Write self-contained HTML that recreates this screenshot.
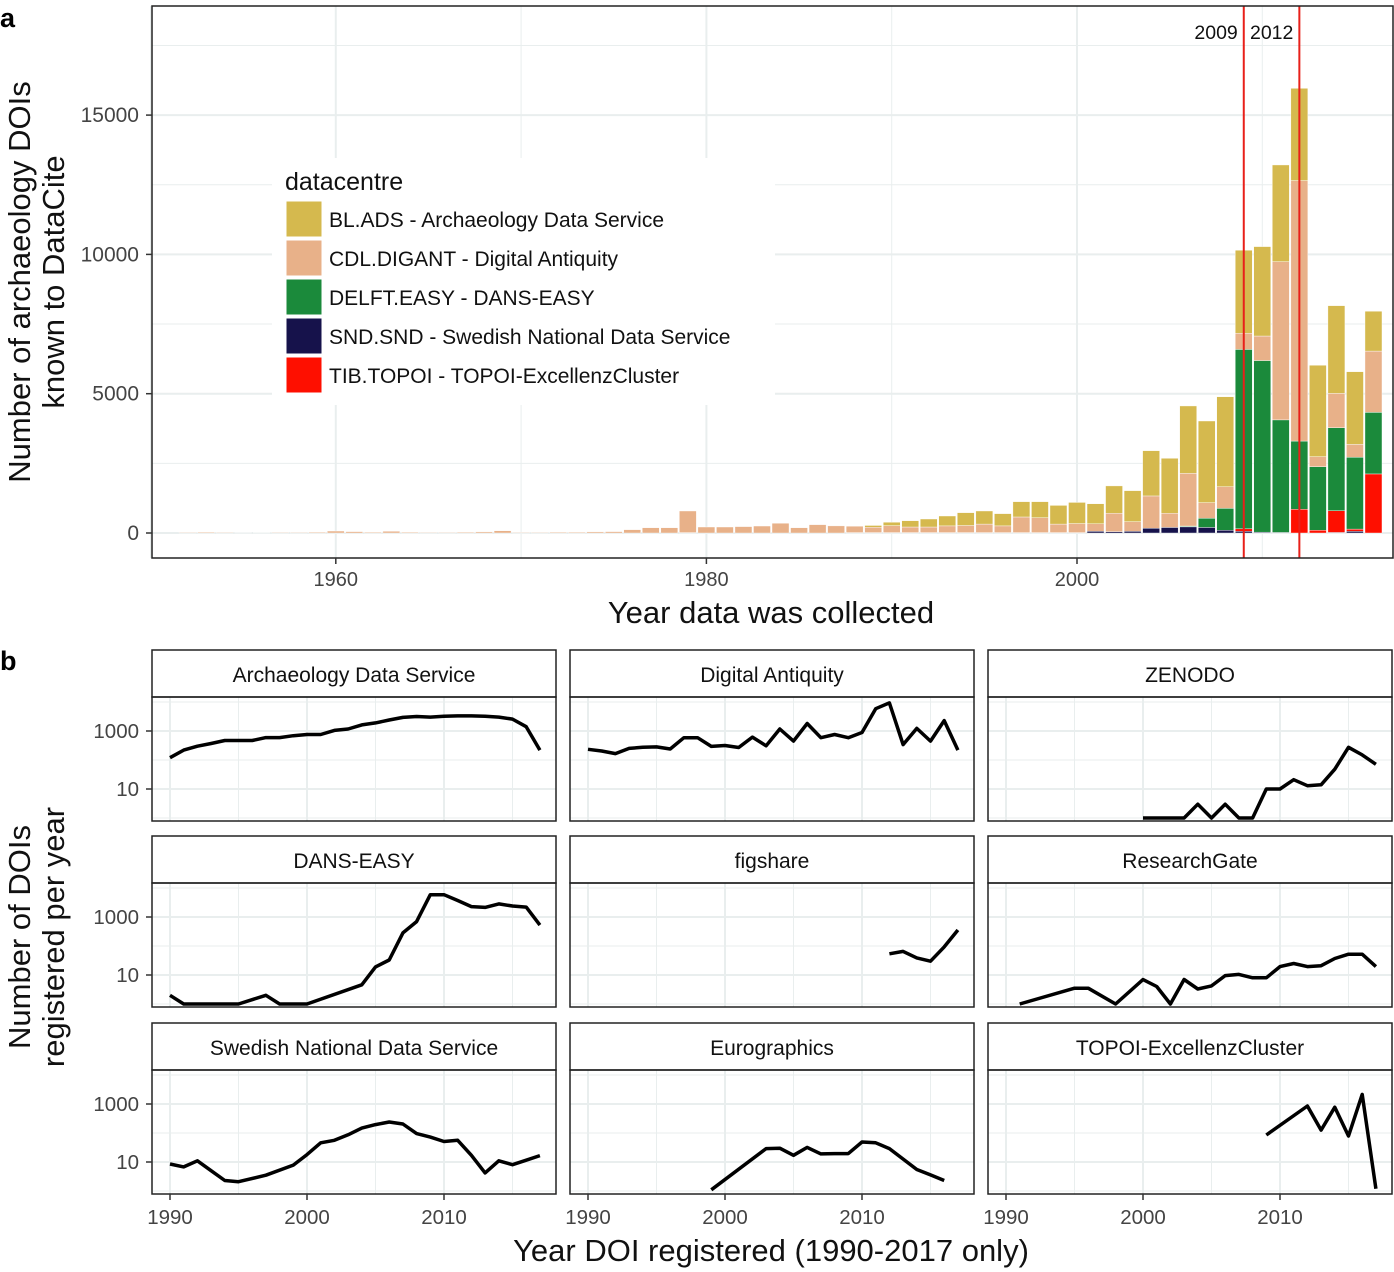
<!DOCTYPE html>
<html><head><meta charset="utf-8"><style>
html,body{margin:0;padding:0;background:#fff;}
svg{display:block;font-family:"Liberation Sans",sans-serif;}
</style></head><body>
<svg id="chart" width="1394" height="1272" viewBox="0 0 1394 1272">
<g id="pa"></g>
<g id="pb"></g>
</svg>
<script>
// ---- Panel a data ----
const barYears = [];
for (let y = 1952; y <= 2016; y++) barYears.push(y);
const digantVals = [20,30,20,10,15,20,20,30,70,50,30,60,30,20,20,30,40,80,20,20,30,30,40,50,120,190,190,775,215,215,230,250,350,190,300,255,230,190,250,200,200,240,255,305,240,560,535,305,325,270,657,347,1160,507,1890,560,775,580,880,5680,9350,360,1230,460,2200];
const adsVals = [0,0,0,0,0,0,0,0,0,0,0,0,0,0,0,0,0,0,0,0,0,0,0,0,0,0,0,0,0,0,0,0,0,0,0,0,0,65,121,227,287,355,460,470,440,550,575,670,757,720,983,1113,1625,1973,2420,2930,3230,2980,3210,3470,3310,3280,3150,2610,1430];
const easyVals = [0,0,0,0,0,0,0,0,0,0,0,0,0,0,0,0,0,0,0,0,0,0,0,0,0,0,0,0,0,0,0,0,0,0,0,0,0,0,0,0,0,0,0,0,0,0,0,0,0,0,0,0,0,0,30,330,785,6440,6160,4040,2450,2280,2980,2580,2210];
const sndVals = [0,0,0,0,0,0,0,0,0,0,0,0,0,0,0,0,0,0,0,0,0,0,0,0,0,0,0,15,0,0,0,0,0,0,0,0,15,15,15,15,15,15,15,15,15,15,15,15,15,60,50,60,170,200,220,200,100,60,30,20,0,0,20,60,0];
const topoiVals = [0,0,0,0,0,0,0,0,0,0,0,0,0,0,0,0,0,0,0,0,0,0,0,0,0,0,0,0,0,0,0,0,0,0,0,0,0,0,0,0,0,0,0,0,0,0,0,0,0,0,0,0,0,0,0,0,0,90,0,0,850,100,780,80,2120];
const yTicksA = [0,5000,10000,15000];
const xTicksA = [1960,1980,2000];
const markerYears = [2009,2012];
const legendLabels = ["BL.ADS - Archaeology Data Service","CDL.DIGANT - Digital Antiquity","DELFT.EASY - DANS-EASY","SND.SND - Swedish National Data Service","TIB.TOPOI - TOPOI-ExcellenzCluster"];
const legendColors = ["#d5b94e","#e8b189","#1b8a3b","#16124b","#fe0f00"];

// ---- Panel b data ----
const facetNames = ["Archaeology Data Service","Digital Antiquity","ZENODO","DANS-EASY","figshare","ResearchGate","Swedish National Data Service","Eurographics","TOPOI-ExcellenzCluster"];
const adsYears = [1990,1991,1992,1993,1994,1995,1996,1997,1998,1999,2000,2001,2002,2003,2004,2005,2006,2007,2008,2009,2010,2011,2012,2013,2014,2015,2016,2017];
const adsCounts = [120,220,300,370,470,470,470,590,590,690,760,760,1050,1170,1620,1900,2400,2950,3160,3020,3240,3310,3310,3240,3020,2570,1410,220];
const dantYears = [1990,1991,1992,1993,1994,1995,1996,1997,1998,1999,2000,2001,2002,2003,2004,2005,2006,2007,2008,2009,2010,2011,2012,2013,2014,2015,2016,2017];
const dantCounts = [234,204,166,251,275,282,240,589,589,295,316,269,617,309,1175,447,1820,589,759,589,891,5890,9330,339,1230,447,2290,219];
const zenYears = [2000,2001,2002,2003,2004,2005,2006,2007,2008,2009,2010,2011,2012,2013,2014,2015,2016,2017];
const zenCounts = [1,1,1,1,3,1,3,1,1,10,10,21,13,14,48,275,150,71];
const dansYears = [1990,1991,1995,1997,1998,2000,2004,2005,2006,2007,2008,2009,2010,2011,2012,2013,2014,2015,2016,2017];
const dansCounts = [2,1,1,2,1,1,4.6,19,33,282,692,5890,5890,3720,2290,2140,2820,2400,2190,525];
const figYears = [2012,2013,2014,2015,2016,2017];
const figCounts = [54,65,39,30,93,355];
const rgYears = [1991,1995,1996,1998,2000,2001,2002,2003,2004,2005,2006,2007,2008,2009,2010,2011,2012,2013,2014,2015,2016,2017];
const rgCounts = [1,3.5,3.5,1,7,4,1,7,3.3,4.2,9.5,10.5,8,8,19.5,25,19.5,21,37,52,52,19.5];
const sndYears = [1990,1991,1992,1993,1994,1995,1997,1999,2000,2001,2002,2003,2004,2005,2006,2007,2008,2009,2010,2011,2012,2013,2014,2015,2016,2017];
const sndCounts = [8.5,6.8,11,5,2.3,2.1,3.5,7.8,18,46,56,87,148,195,240,204,95,72,51,56,17,4.2,11,8.1,11.5,16.6];
const euroYears = [1999,2003,2004,2005,2006,2007,2008,2009,2010,2011,2012,2014,2015,2016];
const euroCounts = [1.1,29,30,17,32,19,19.5,19.5,49,46,29,5.5,3.6,2.3];
const topYears = [2009,2012,2013,2014,2015,2016,2017];
const topCounts = [85,850,126,776,79,2140,1.2];
const yTicksB = [10,1000];
const xTicksB = [1990,2000,2010];

const NS = "http://www.w3.org/2000/svg";
function mk(parent, tag, attrs, text) {
  const e = document.createElementNS(NS, tag);
  for (const k in attrs) e.setAttribute(k, attrs[k]);
  if (text !== undefined) e.textContent = text;
  parent.appendChild(e);
  return e;
}
const GRID = "#e9eeee";

// ---------- Panel a ----------
const pa = document.getElementById("pa");
const L = 152, R = 1393, T = 6, B = 558;
const xA = yr => 1077 + 18.53 * (yr - 2000);
const yA = v => 533 - v * 0.02786;
[1950,1970,1990,2010].forEach(t => { const l = mk(pa,"line",{x1:xA(t),x2:xA(t),y1:T,y2:B,stroke:GRID,"stroke-width":1});

 });
[2500,7500,12500,17500].forEach(t => { const l = mk(pa,"line",{x1:L,x2:R,y1:yA(t),y2:yA(t),stroke:GRID,"stroke-width":1});

 });
xTicksA.forEach(t => { const l = mk(pa,"line",{x1:xA(t),x2:xA(t),y1:T,y2:B,stroke:GRID,"stroke-width":2});

 });
yTicksA.forEach(t => { const l = mk(pa,"line",{x1:L,x2:R,y1:yA(t),y2:yA(t),stroke:GRID,"stroke-width":2});

 });
const series = [sndVals, topoiVals, easyVals, digantVals, adsVals];
const seriesColors = ["#16124b","#fe0f00","#1b8a3b","#e8b189","#d5b94e"];
barYears.forEach((yr, i) => {
  let base = 0;
  series.forEach((s, k) => {
    const v = s[i];
    if (v > 0) {
      const r = mk(pa,"rect",{x:xA(yr)-8.5,width:17,y:yA(base+v),height:yA(base)-yA(base+v),fill:seriesColors[k],stroke:"#fff","stroke-width":0.4});
      
      
    }
    base += v;
  });
});
markerYears.forEach(yr => {
  const l = mk(pa,"line",{x1:xA(yr),x2:xA(yr),y1:T,y2:B,stroke:"#e8201a","stroke-width":2});
  
  
  const t = mk(pa,"text",{x:xA(yr)-6,y:39,"text-anchor":"end","font-size":19.5,fill:"#111"}, String(yr));
  
  
});
const lg = mk(pa,"g",{});


mk(lg,"rect",{x:272,y:158,width:503,height:247,fill:"#fff"});
const lt = mk(lg,"text",{x:285,y:190,"font-size":25,fill:"#111"},"datacentre");


legendLabels.forEach((lab, i) => {
  const y0 = 201 + i * 39;
  const k = mk(lg,"rect",{x:286,y:y0,width:36,height:36,fill:legendColors[i],stroke:"#fff","stroke-width":1});
  
  
  const t = mk(lg,"text",{x:329,y:y0+26,"font-size":21,fill:"#111"},lab);
  
  
});
const bd = mk(pa,"rect",{x:L,y:T,width:R-L,height:B-T,fill:"none",stroke:"#222","stroke-width":1.5});


yTicksA.forEach(t => {
  mk(pa,"line",{x1:L-6,x2:L,y1:yA(t),y2:yA(t),stroke:"#333","stroke-width":1.5});
  const tx = mk(pa,"text",{x:L-13,y:yA(t)+7,"text-anchor":"end","font-size":21,fill:"#444"},String(t));
  
  
});
xTicksA.forEach(t => {
  mk(pa,"line",{x1:xA(t),x2:xA(t),y1:B,y2:B+6,stroke:"#333","stroke-width":1.5});
  const tx = mk(pa,"text",{x:xA(t),y:586,"text-anchor":"middle","font-size":20,fill:"#444"},String(t));
  
  
});
let e;
e = mk(pa,"text",{x:771,y:623,"text-anchor":"middle","font-size":31,fill:"#111"},"Year data was collected");


e = mk(pa,"text",{transform:"translate(30,282) rotate(-90)","text-anchor":"middle","font-size":31,fill:"#111"},"Number of archaeology DOIs");


e = mk(pa,"text",{transform:"translate(64,282) rotate(-90)","text-anchor":"middle","font-size":31,fill:"#111"},"known to DataCite");


e = mk(pa,"text",{x:0,y:27,"font-size":27,"font-weight":"bold",fill:"#000"},"a");



// ---------- Panel b ----------
const pb = document.getElementById("pb");
const colX = [152,570,988];
const stripY = [650,836,1023];
const facetYears = [adsYears,dantYears,zenYears,dansYears,figYears,rgYears,sndYears,euroYears,topYears];
const facetCounts = [adsCounts,dantCounts,zenCounts,dansCounts,figCounts,rgCounts,sndCounts,euroCounts,topCounts];
facetNames.forEach((name, i) => {
  const c = i % 3, r = Math.floor(i / 3);
  const x0 = colX[c], x1 = x0 + 404;
  const s0 = stripY[r], p0 = s0 + 47, p1 = p0 + 124;
  const y1000 = p0 + 34;
  const xB = yr => x0 + 18 + 13.7 * (yr - 1990);
  const yB = v => y1000 + (3 - Math.log10(v)) * 29;
  const g = mk(pb,"g",{});
  
  
  [1995,2005,2015].forEach(t => mk(g,"line",{x1:xB(t),x2:xB(t),y1:p0,y2:p1,stroke:GRID,"stroke-width":1}));
  [1,100,10000].forEach(t => mk(g,"line",{x1:x0,x2:x1,y1:yB(t),y2:yB(t),stroke:GRID,"stroke-width":1}));
  xTicksB.forEach(t => mk(g,"line",{x1:xB(t),x2:xB(t),y1:p0,y2:p1,stroke:GRID,"stroke-width":2}));
  yTicksB.forEach(t => mk(g,"line",{x1:x0,x2:x1,y1:yB(t),y2:yB(t),stroke:GRID,"stroke-width":2}));
  const pts = facetYears[i].map((yr, j) => xB(yr).toFixed(1) + "," + yB(facetCounts[i][j]).toFixed(1)).join(" ");
  const pl = mk(g,"polyline",{points:pts,fill:"none",stroke:"#000","stroke-width":3.5,"stroke-linejoin":"round"});
  
  
  const st = mk(g,"rect",{x:x0,y:s0,width:404,height:47,fill:"#fff",stroke:"#222","stroke-width":1.5});
  
  
  const stt = mk(g,"text",{x:x0+202,y:s0+32,"text-anchor":"middle","font-size":21,fill:"#111"},name);
  
  
  mk(g,"rect",{x:x0,y:p0,width:404,height:124,fill:"none",stroke:"#222","stroke-width":1.5});
  if (c === 0) {
    yTicksB.forEach(t => {
      mk(g,"line",{x1:x0-6,x2:x0,y1:yB(t),y2:yB(t),stroke:"#333","stroke-width":1.5});
      const tx = mk(g,"text",{x:x0-13,y:yB(t)+7,"text-anchor":"end","font-size":20.5,fill:"#444"},String(t));
      
      
    });
  }
  if (r === 2) {
    xTicksB.forEach(t => {
      mk(g,"line",{x1:xB(t),x2:xB(t),y1:p1,y2:p1+6,stroke:"#333","stroke-width":1.5});
      const tx = mk(g,"text",{x:xB(t),y:p1+30,"text-anchor":"middle","font-size":20.5,fill:"#444"},String(t));
      
      
    });
  }
});
e = mk(pb,"text",{x:771,y:1261,"text-anchor":"middle","font-size":31,fill:"#111"},"Year DOI registered (1990-2017 only)");


e = mk(pb,"text",{transform:"translate(30,937) rotate(-90)","text-anchor":"middle","font-size":31,fill:"#111"},"Number of DOIs");


e = mk(pb,"text",{transform:"translate(64,937) rotate(-90)","text-anchor":"middle","font-size":31,fill:"#111"},"registered per year");


e = mk(pb,"text",{x:0,y:670,"font-size":27,"font-weight":"bold",fill:"#000"},"b");


</script>
</body></html>
